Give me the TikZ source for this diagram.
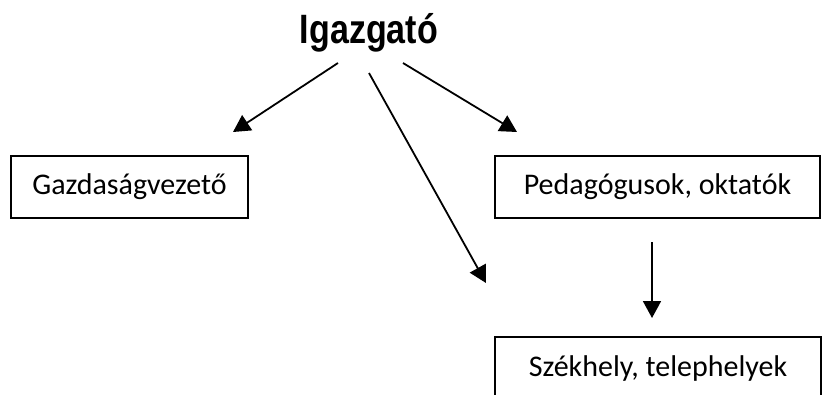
\documentclass[tikz,border=0pt]{standalone}
\usepackage{fontspec}
\setmainfont{Carlito}
\newfontfamily\headfont{Liberation Sans}
\usetikzlibrary{arrows.meta}
\begin{document}
\begin{tikzpicture}[x=1pt,y=-1pt,
  box/.style={draw, line width=1.6pt, inner sep=0pt, minimum height=62pt, font=\fontsize{30}{34}\selectfont},
  arr/.style={line width=1.8pt, -{Triangle[length=17pt,width=18pt]}}]
\clip (0,0) rectangle (822,394);
\node[anchor=base, inner sep=0pt, font=\headfont\bfseries\fontsize{41}{46}\selectfont] (igazgato) at (369,43.5) {\scalebox{0.83}[1]{Igazgató}};
\node[box, minimum width=237pt] (gazd) at (129.5,187) {Gazdaságvezető};
\node[box, minimum width=325pt] (ped) at (657.5,187) {Pedagógusok, oktatók};
\node[box, minimum width=326pt] (szek) at (658,368) {Székhely, telephelyek};
\coordinate (l1) at (338,63); \coordinate (l2) at (233,132);
\coordinate (m1) at (369,73); \coordinate (m2) at (486,283);
\coordinate (r1) at (403,63); \coordinate (r2) at (517,132);
\coordinate (v1) at (652,242); \coordinate (v2) at (652,318);
\draw[arr] (l1) -- (l2);
\draw[arr] (m1) -- (m2);
\draw[arr] (r1) -- (r2);
\draw[arr] (v1) -- (v2);
\end{tikzpicture}
\end{document}
